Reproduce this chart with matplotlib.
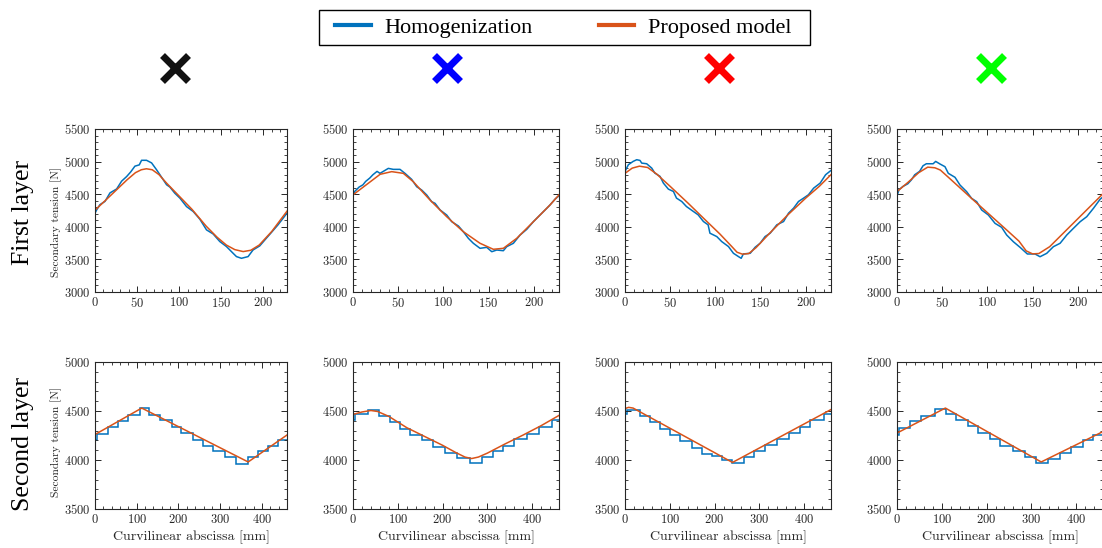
import matplotlib
matplotlib.use("Agg")
import matplotlib.pyplot as plt
from matplotlib.lines import Line2D
from matplotlib.patches import Rectangle
from matplotlib.ticker import MultipleLocator

# --- data (x in mm, secondary tension in N) ---

# first layer, homogenization
first_hom_x = [
    [0, 2, 5.9, 11.9, 17.8, 25.7, 31.6, 37.5, 42.3, 47.4, 52.6, 55.3, 61.2, 67.2, 73.1, 77, 85, 88.9, 94.8,
     100.8, 108.7, 116.6, 124.5, 132.4, 140.3, 148.2, 156.1, 164, 168, 173.9, 181.8, 187.7, 195.6, 203.5,
     209.4, 217.3, 223.3, 228],
    [0, 1.9, 6.7, 11, 14, 18.5, 22, 26.6, 29.9, 39.1, 44.6, 52, 57.5, 64.9, 70.5, 76, 81.6, 87.1, 90.8,
     96.4, 103.7, 109.3, 116.7, 122.1, 127.7, 133.2, 140.6, 148, 153.6, 159.1, 166.4, 170.1, 177.5, 184.9,
     192.3, 199.6, 207, 214.4, 218, 224, 228],
    [0, 3.7, 9, 13, 16.6, 18.5, 24, 29.6, 33, 38.8, 42.5, 48, 53.6, 57, 62.8, 68, 75.7, 81, 86.8, 92, 94,
     101.6, 107, 114.5, 120, 125.6, 128.6, 131, 138.6, 144, 149.6, 155, 160.7, 168, 175.5, 181, 186.6, 192,
     197.7, 203, 208.8, 216, 222, 228],
    [0, 2.2, 6.6, 12, 16, 19.6, 25, 28.8, 32.5, 40, 42.8, 47.6, 53.1, 56.8, 64.2, 69.7, 77.1, 82.6, 88.2,
     93.7, 101.1, 108.5, 115.8, 121.4, 128.8, 136.2, 144.3, 152.8, 158.3, 165.7, 173.1, 180.5, 187.9,
     195.3, 202.7, 210, 217.4, 224.7, 228],
]
first_hom_t = [
    [4210, 4260, 4340, 4390, 4520, 4580, 4700, 4770, 4840, 4930, 4950, 5020, 5020, 4980, 4875, 4800, 4645,
     4610, 4515, 4440, 4310, 4235, 4117, 3953, 3890, 3774, 3697, 3594, 3543, 3517, 3543, 3645, 3707, 3825,
     3912, 4030, 4130, 4210],
    [4475, 4542, 4609, 4644, 4696, 4747, 4798, 4850, 4820, 4896, 4881, 4881, 4820, 4728, 4615, 4564, 4488,
     4385, 4360, 4258, 4181, 4078, 4012, 3925, 3823, 3747, 3670, 3685, 3618, 3644, 3633, 3695, 3747, 3874,
     3961, 4078, 4181, 4283, 4334, 4430, 4475],
    [4849, 4952, 5003, 5029, 5018, 4977, 4967, 4900, 4824, 4773, 4670, 4578, 4542, 4440, 4388, 4311, 4235,
     4183, 4081, 4030, 3902, 3850, 3774, 3697, 3594, 3543, 3517, 3584, 3594, 3686, 3748, 3850, 3902, 4030,
     4081, 4209, 4286, 4388, 4440, 4491, 4593, 4670, 4798, 4865],
    [4475, 4568, 4619, 4660, 4721, 4798, 4850, 4936, 4967, 4967, 5003, 4963, 4922, 4820, 4759, 4641, 4538,
     4436, 4385, 4258, 4181, 4053, 3992, 3874, 3771, 3685, 3583, 3583, 3541, 3593, 3695, 3747, 3874, 3977,
     4078, 4155, 4283, 4421, 4460],
]

# first layer, proposed model
first_mod_x = [
    [0, 12, 25, 38, 48, 55, 61, 68, 76, 85, 100, 115, 132, 145, 156, 166, 176, 185, 195, 210, 228],
    [0, 10, 20, 30, 42.8, 55.7, 66.7, 85.2, 103.7, 122.1, 140.6, 155.3, 166.4, 181.2, 199.6, 218, 228],
    [0, 8, 16, 25, 35, 50, 70, 90, 105, 118, 124, 130, 137, 145, 160, 180, 200, 215, 228],
    [0, 12, 24, 34, 42, 48, 60, 84.5, 121.4, 135, 143, 150, 157, 169, 195, 224.7, 228],
]
first_mod_t = [
    [4255, 4400, 4560, 4720, 4830, 4875, 4890, 4875, 4800, 4670, 4470, 4270, 4010, 3840, 3720, 3650, 3620,
     3640, 3720, 3930, 4240],
    [4490, 4595, 4700, 4805, 4846, 4820, 4692, 4411, 4155, 3925, 3747, 3655, 3670, 3823, 4078, 4334, 4490],
    [4820, 4900, 4930, 4910, 4810, 4620, 4360, 4090, 3890, 3700, 3610, 3580, 3590, 3680, 3900, 4180, 4440,
     4620, 4800],
    [4540, 4680, 4830, 4915, 4905, 4870, 4720, 4411, 3951, 3780, 3630, 3585, 3590, 3695, 4053, 4462, 4510],
]

# second layer, homogenization (staircase: edges and levels)
second_hom_edges = [
    [0, 5.6, 31.9, 55.8, 79.7, 107.6, 129.9, 155.4, 183.3, 207.2, 235.1, 259, 283, 310.8, 338.7, 366.6,
     390.5, 414.4, 438.4, 460],
    [0, 3.7, 33.6, 58.3, 82.1, 104.6, 127, 153.1, 179.2, 205.4, 231.5, 261.4, 287.5, 313.7, 336, 358.5,
     388.3, 414.5, 444.3, 460],
    [0, 3.7, 11.2, 33.5, 55.9, 78.3, 100.6, 123, 149.1, 171.5, 193.8, 216.2, 238.6, 264.7, 287, 313.1,
     339.2, 365.3, 391.4, 413.8, 443.6, 460],
    [0, 4.5, 28.3, 54.3, 84.1, 110.2, 132.5, 158.5, 180.9, 206.9, 229.2, 259, 285.1, 311.1, 337.2, 363.2,
     389.3, 415.3, 437.6, 460],
]
second_hom_t = [
    [4208, 4265, 4337, 4395, 4463, 4531, 4463, 4412, 4337, 4276, 4208, 4146, 4088, 4031, 3963, 4031, 4088,
     4146, 4208],
    [4405, 4473, 4514, 4452, 4388, 4320, 4259, 4201, 4133, 4072, 4020, 3970, 4031, 4088, 4146, 4214, 4269,
     4337, 4405],
    [4473, 4507, 4514, 4446, 4388, 4320, 4259, 4197, 4123, 4065, 4040, 4005, 3970, 4031, 4095, 4157, 4214,
     4276, 4337, 4405, 4473],
    [4255, 4327, 4395, 4452, 4520, 4473, 4412, 4344, 4276, 4214, 4146, 4088, 4027, 3970, 4014, 4072, 4133,
     4201, 4259],
]

# second layer, proposed model
second_mod_x = [
    [0, 112, 367, 460],
    [0, 20, 40, 55, 80, 120, 160, 200, 230, 250, 265, 280, 300, 340, 380, 420, 460],
    [0, 8, 18, 30, 240, 460],
    [0, 108, 322, 460],
]
second_mod_t = [
    [4260, 4530, 3980, 4255],
    [4465, 4490, 4505, 4495, 4445, 4330, 4240, 4150, 4075, 4030, 4015, 4030, 4070, 4165, 4255, 4350, 4455],
    [4525, 4537, 4530, 4500, 3975, 4515],
    [4275, 4530, 3980, 4290],
]

cross_colors = ["#111111", "#0000ff", "#ff0000", "#00ff00"]
row_labels = ["First layer", "Second layer"]
legend_labels = ["Homogenization", "Proposed model"]

blue = "#0072BD"
orange = "#D95319"
ink = "#262626"

plt.rcParams["font.family"] = "cmr10"
plt.rcParams["axes.formatter.use_mathtext"] = True
plt.rcParams["axes.unicode_minus"] = False

W, H = 1102, 548
fig = plt.figure(figsize=(W / 100, H / 100), dpi=100)

# axes boxes in pixels: (left, width)
cols_px = [(95, 192), (353, 206), (625, 206), (897, 206)]
rows_px = [(129, 292), (362, 509)]


def style(ax, xmax, xmaj, xmin, ymin, ymax, ymin_step):
    ax.set_xlim(0, xmax)
    ax.set_ylim(ymin, ymax)
    ax.xaxis.set_major_locator(MultipleLocator(xmaj))
    ax.xaxis.set_minor_locator(MultipleLocator(xmin))
    ax.yaxis.set_major_locator(MultipleLocator(500))
    ax.yaxis.set_minor_locator(MultipleLocator(ymin_step))
    ax.tick_params(which="both", direction="in", top=True, right=True, colors=ink, labelsize=9, pad=3)
    ax.tick_params(which="major", length=4, width=0.7)
    ax.tick_params(which="minor", length=2, width=0.6)
    for s in ax.spines.values():
        s.set_color(ink)
        s.set_linewidth(0.8)


for r, (top, bot) in enumerate(rows_px):
    for c, (left, width) in enumerate(cols_px):
        ax = fig.add_axes([left / W, 1 - bot / H, width / W, (bot - top) / H])
        if r == 0:
            ax.plot(first_hom_x[c], first_hom_t[c], color=blue, lw=1.1)
            ax.plot(first_mod_x[c], first_mod_t[c], color=orange, lw=1.1)
            style(ax, 228, 50, 10, 3000, 5500, 100)
        else:
            ax.stairs(second_hom_t[c], second_hom_edges[c], color=blue, lw=1.1, baseline=None)
            ax.plot(second_mod_x[c], second_mod_t[c], color=orange, lw=1.1)
            style(ax, 460, 100, 20, 3500, 5000, 100)
            ax.set_xlabel("Curvilinear abscissa [mm]", fontsize=10, color=ink, labelpad=3)
        if c == 0:
            ax.set_ylabel("Secondary tension [N]", fontsize=8.3, color=ink)
            ax.yaxis.set_label_coords(-0.172, 0.43 if r == 0 else 0.456)

# row titles
fig.text(23 / W, 1 - 212 / H, row_labels[0], rotation=90, ha="center", va="center",
         fontsize=18.5, family="Liberation Serif")
fig.text(23 / W, 1 - 444 / H, row_labels[1], rotation=90, ha="center", va="center",
         fontsize=18.5, family="Liberation Serif")

# coloured crosses above each column
for i, col in enumerate(cross_colors):
    fig.add_artist(Line2D([(175 + 272 * i) / W], [1 - 68 / H], transform=fig.transFigure,
                          marker="x", markersize=19, markeredgewidth=5.0, color=col, linestyle="none"))

# legend: entries without frame, box drawn separately
handles = [Line2D([], [], color=blue, lw=3), Line2D([], [], color=orange, lw=3)]
fig.legend(handles, legend_labels, loc="center left", bbox_to_anchor=(335 / W, 1 - 27.5 / H),
           ncol=2, prop={"family": "Liberation Serif", "size": 16}, frameon=False,
           borderpad=0, borderaxespad=0, handlelength=1.6, handletextpad=0.6, columnspacing=3.0)
fig.add_artist(Rectangle((319 / W, 1 - 45 / H), 491 / W, 35 / H, transform=fig.transFigure,
                         fill=False, edgecolor="black", lw=1.0))

fig.savefig("out.png", dpi=100)
